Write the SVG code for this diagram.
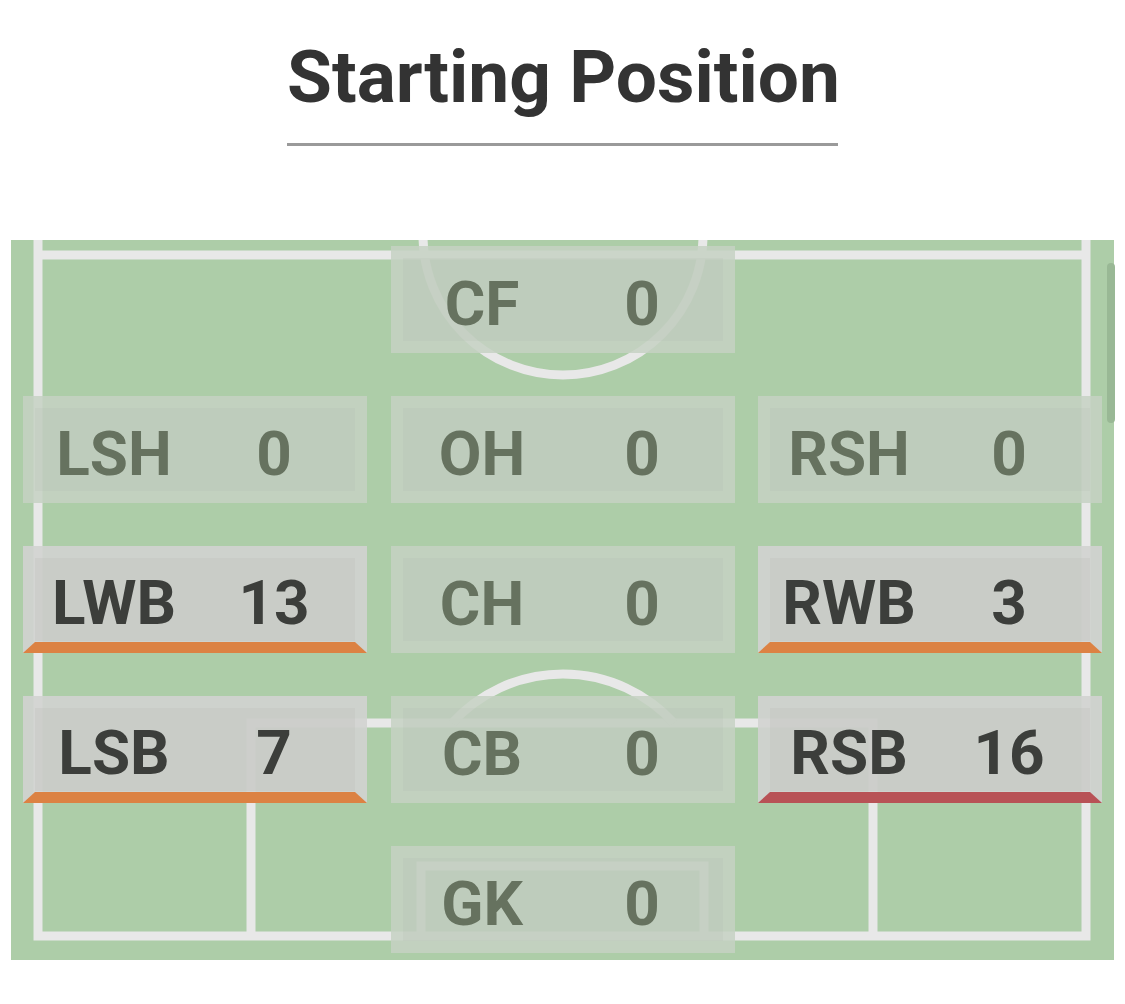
<svg xmlns="http://www.w3.org/2000/svg" width="1125" height="1004" viewBox="0 0 1125 1004">
  <style>
    .title { font-family: Roboto, "Liberation Sans", sans-serif; font-weight: 700; font-size: 73px; fill: #333333; }
    .line { fill: none; stroke: #e8e8e8; stroke-width: 9; }
    .ring { fill: none; stroke-width: 12; }
    .lbl { font-family: Roboto, "Liberation Sans", sans-serif; font-weight: 700; font-size: 62px; text-anchor: middle; }
    .hl .ring { stroke: #d2d3d0; stroke-opacity: 0.9; }
    .hl .inner { fill: #cbccc9; fill-opacity: 0.94; }
    .hl .lbl { fill: #3c3e3b; }
    .fd .ring { stroke: #c5d1c3; stroke-opacity: 0.85; }
    .fd .inner { fill: #c0ccbe; fill-opacity: 0.88; }
    .fd .lbl { fill: #66725f; }
    .orange { fill: #dc8243; }
    .red { fill: #b85256; }
  </style>
  <defs>
    <clipPath id="pitchClip"><rect x="11" y="240" width="1103" height="720"/></clipPath>
  </defs>

  <rect width="1125" height="1004" fill="#ffffff"/>

  <text class="title" x="563.5" y="102" text-anchor="middle">Starting Position</text>
  <rect x="287" y="143" width="551" height="3" fill="#9a9a9a"/>

  <g id="pitch">
    <rect x="11" y="240" width="1103" height="720" fill="#adcda8"/>
    <g clip-path="url(#pitchClip)">
      <path class="line" d="M38,240 V936 H1086 V240"/>
      <path class="line" d="M38,255 H1086"/>
      <circle class="line" cx="563" cy="235" r="140"/>
      <path class="line" d="M251,936 V723 H873 V936"/>
      <path class="line" d="M452.1,723 A150,150 0 0 1 673.9,723"/>
      <path class="line" d="M421,936 V866 H704 V936"/>
    </g>
    <rect x="1107" y="263" width="8" height="160" rx="4" fill="#99b895"/>
  </g>

  <g id="connectors"></g>

  <g id="node-CF" class="fd" transform="translate(391,246)">
    <rect class="ring" x="6" y="6" width="332" height="95"/>
    <rect class="inner" x="12" y="12" width="320" height="83"/>
    <text class="lbl" x="91" y="79">CF</text>
    <text class="lbl" x="251" y="79">0</text>
  </g>

  <g id="node-LSH" class="fd" transform="translate(23,396)">
    <rect class="ring" x="6" y="6" width="332" height="95"/>
    <rect class="inner" x="12" y="12" width="320" height="83"/>
    <text class="lbl" x="91" y="79">LSH</text>
    <text class="lbl" x="251" y="79">0</text>
  </g>
  <g id="node-OH" class="fd" transform="translate(391,396)">
    <rect class="ring" x="6" y="6" width="332" height="95"/>
    <rect class="inner" x="12" y="12" width="320" height="83"/>
    <text class="lbl" x="91" y="79">OH</text>
    <text class="lbl" x="251" y="79">0</text>
  </g>
  <g id="node-RSH" class="fd" transform="translate(758,396)">
    <rect class="ring" x="6" y="6" width="332" height="95"/>
    <rect class="inner" x="12" y="12" width="320" height="83"/>
    <text class="lbl" x="91" y="79">RSH</text>
    <text class="lbl" x="251" y="79">0</text>
  </g>

  <g id="node-LWB" class="hl" transform="translate(23,546)">
    <rect class="ring" x="6" y="6" width="332" height="95"/>
    <rect class="inner" x="12" y="12" width="320" height="83"/>
    <polygon class="orange" points="12,96 332,96 344,107 0,107"/>
    <text class="lbl" x="91" y="78">LWB</text>
    <text class="lbl" x="251" y="78">13</text>
  </g>
  <g id="node-CH" class="fd" transform="translate(391,546)">
    <rect class="ring" x="6" y="6" width="332" height="95"/>
    <rect class="inner" x="12" y="12" width="320" height="83"/>
    <text class="lbl" x="91" y="79">CH</text>
    <text class="lbl" x="251" y="79">0</text>
  </g>
  <g id="node-RWB" class="hl" transform="translate(758,546)">
    <rect class="ring" x="6" y="6" width="332" height="95"/>
    <rect class="inner" x="12" y="12" width="320" height="83"/>
    <polygon class="orange" points="12,96 332,96 344,107 0,107"/>
    <text class="lbl" x="91" y="78">RWB</text>
    <text class="lbl" x="251" y="78">3</text>
  </g>

  <g id="node-LSB" class="hl" transform="translate(23,696)">
    <rect class="ring" x="6" y="6" width="332" height="95"/>
    <rect class="inner" x="12" y="12" width="320" height="83"/>
    <polygon class="orange" points="12,96 332,96 344,107 0,107"/>
    <text class="lbl" x="91" y="78">LSB</text>
    <text class="lbl" x="251" y="78">7</text>
  </g>
  <g id="node-CB" class="fd" transform="translate(391,696)">
    <rect class="ring" x="6" y="6" width="332" height="95"/>
    <rect class="inner" x="12" y="12" width="320" height="83"/>
    <text class="lbl" x="91" y="79">CB</text>
    <text class="lbl" x="251" y="79">0</text>
  </g>
  <g id="node-RSB" class="hl" transform="translate(758,696)">
    <rect class="ring" x="6" y="6" width="332" height="95"/>
    <rect class="inner" x="12" y="12" width="320" height="83"/>
    <polygon class="red" points="12,96 332,96 344,107 0,107"/>
    <text class="lbl" x="91" y="78">RSB</text>
    <text class="lbl" x="251" y="78">16</text>
  </g>

  <g id="node-GK" class="fd" transform="translate(391,846)">
    <rect class="ring" x="6" y="6" width="332" height="95"/>
    <rect class="inner" x="12" y="12" width="320" height="83"/>
    <text class="lbl" x="91" y="79">GK</text>
    <text class="lbl" x="251" y="79">0</text>
  </g>
</svg>
